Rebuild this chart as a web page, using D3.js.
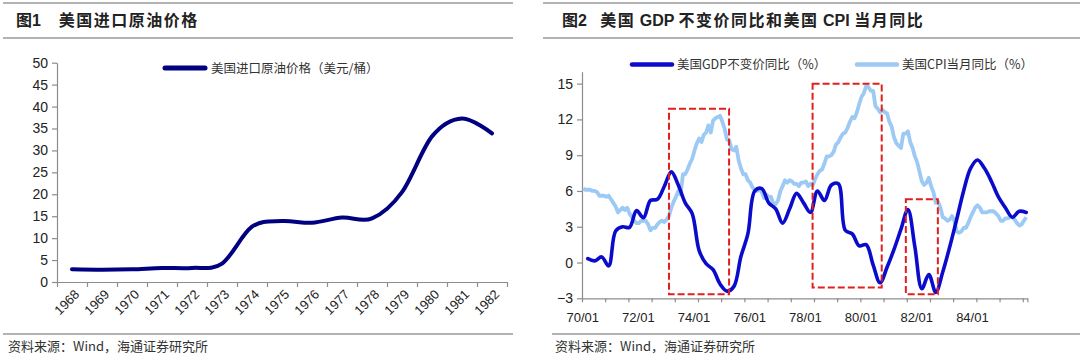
<!DOCTYPE html>
<html><head><meta charset="utf-8">
<script src="https://cdn.jsdelivr.net/npm/d3@7"></script>
<style>body{margin:0;background:#fff}svg{display:block}</style>
</head><body>
<svg id="c" width="1080" height="356"></svg>
<script>
// ---------- data ----------
const oilYears = ["1968","1969","1970","1971","1972","1973","1974","1975","1976","1977","1978","1979","1980","1981","1982"];
const oilPrice = [2.9, 2.8, 2.9, 3.2, 3.2, 4.2, 12.6, 13.9, 13.5, 14.7, 14.5, 20.5, 33.2, 37.3, 33.9];
const oilTicks = [0,5,10,15,20,25,30,35,40,45,50];

// US real GDP YoY, quarterly 1970Q1..1985Q4
const gdpYoY = [0.33, 0.14, 0.47, -0.28,
  2.65, 3.0, 2.95, 4.35,
  3.75, 5.2, 5.3, 6.4,
  7.6, 6.5, 5.0, 4.1,
  1.0, -0.1, -0.6, -1.8,
  -2.4, -2.0, 0.5, 2.4,
  6.0, 6.2, 5.0, 4.5,
  3.3, 4.5, 5.8, 5.0,
  4.2, 6.0, 5.2, 6.5,
  6.6, 2.7, 2.4, 1.4,
  1.5, -0.2, -1.7, -0.4,
  1.1, 2.8, 4.45, 1.3,
  -2.2, -1.0, -2.5, -0.8,
  1.3, 3.6, 6.0, 7.9,
  8.6, 7.9, 6.8, 5.5,
  4.6, 3.8, 4.3, 4.2];
// US CPI YoY, monthly 1970/01..1985/12
const cpiYoY = [
 6.2,6.1,6.1,6.1,6.0,6.0,5.9,5.6,5.6,5.6,5.5,5.6,
 5.3,5.0,4.7,4.2,4.4,4.6,4.4,4.6,4.1,3.8,3.5,3.3,
 3.3,3.5,3.5,3.5,3.2,2.7,2.9,2.9,3.2,3.4,3.5,3.4,
 3.6,3.9,4.6,5.1,5.5,6.0,5.7,7.4,7.4,7.8,8.3,8.7,
 9.4,10.0,10.4,10.1,10.7,10.9,11.5,10.9,11.9,12.1,12.2,12.3,
 11.8,11.2,10.3,10.2,9.5,9.4,9.7,8.6,7.9,7.4,7.4,6.9,
 6.7,6.3,6.1,6.0,6.2,5.9,5.4,5.7,5.5,5.5,4.9,4.9,
 5.2,6.0,6.4,6.9,6.7,6.9,6.8,6.6,6.6,6.4,6.7,6.7,
 6.8,6.4,6.6,6.5,7.0,7.4,7.7,7.8,8.3,8.9,8.9,9.0,
 9.3,9.9,10.1,10.5,10.8,10.9,11.3,11.8,12.2,12.1,12.6,13.3,
 13.9,14.2,14.8,14.7,14.4,14.4,13.1,12.9,12.6,12.8,12.6,12.5,
 11.8,11.4,10.5,10.0,9.8,9.6,10.8,10.8,11.0,10.1,9.6,8.9,
 8.4,7.6,6.8,6.5,6.7,7.1,6.4,5.9,5.0,5.1,4.6,3.8,
 3.7,3.5,3.6,3.9,3.5,2.6,2.5,2.6,2.9,2.9,3.3,3.8,
 4.2,4.6,4.8,4.6,4.2,4.2,4.2,4.3,4.3,4.3,4.1,3.9,
 3.5,3.5,3.7,3.7,3.8,3.8,3.6,3.3,3.1,3.2,3.5,3.8];
const rightTicks = [-3,0,3,6,9,12,15];
const monthLabels = ["70/01","72/01","74/01","76/01","78/01","80/01","82/01","84/01"];
// highlighted periods: [start month index, end month index, low value, high value]
const boxes = [[37.5, 63.4, -2.65, 12.9], [99.4, 129.2, -2.1, 15.0], [139.6, 153.4, -2.65, 5.3]];

// ---------- drawing ----------
const svg = d3.select("#c");
svg.append("rect").attr("width",1080).attr("height",356).attr("fill","#fff");
const CJK = "'Noto Sans CJK SC', sans-serif";
const LAT = "'Liberation Sans', Arial, sans-serif";

function rule(x1,x2,y){svg.append("line").attr("x1",x1).attr("x2",x2).attr("y1",y).attr("y2",y).attr("stroke","#9a9a9a").attr("stroke-width",1.6);}
rule(3,513,3); rule(3,513,38); rule(543,1080,3); rule(543,1080,38);
rule(3,513,334); rule(552,1080,334);

function title(x, parts){
  const t = svg.append("text").attr("x",x).attr("y",26).attr("font-size",16).attr("fill","#222");
  parts.forEach(p=>t.append("tspan").attr("font-family",p[1]?LAT:CJK).attr("font-weight",700)
     .attr("letter-spacing",p[2]||0).text(p[0]));
}
title(16, [["图",0],["1",1],["\u00a0\u00a0\u00a0\u00a0",1],["美国进口原油价格",0,1.5]]);
title(562,[["图",0],["2",1],["\u00a0\u00a0\u00a0",1],["美国",0,1.5],[" GDP ",1],["不变价同比和美国",0,1.5],[" CPI ",1],["当月同比",0,1.5]]);

function source(x){svg.append("text").attr("x",x).attr("y",351).attr("font-family",CJK).attr("font-size",13).attr("fill","#333").text("资料来源：Wind，海通证券研究所");}
source(8); source(555);

function styleAxis(g){
  g.select(".domain").attr("stroke","#8c8c8c").attr("stroke-width",1.2);
  g.selectAll(".tick line").attr("stroke","#8c8c8c").attr("stroke-width",1.2);
  g.selectAll("text").attr("fill","#222").attr("font-family",LAT);
}

// ---------- left chart ----------
const xL = d3.scaleBand().domain(oilYears).range([57,507]).padding(0);
const xLi = d3.scaleLinear().domain([0,oilYears.length]).range([57,507]);
const yL = d3.scaleLinear().domain([0,50]).range([282,62.7]);

const gyL = svg.append("g").attr("transform","translate(57,0)")
  .call(d3.axisLeft(yL).tickValues(oilTicks).tickSize(5).tickSizeOuter(0).tickPadding(4));
styleAxis(gyL); gyL.selectAll("text").attr("font-size",14);

const gxL = svg.append("g").attr("transform","translate(0,282)")
  .call(d3.axisBottom(xLi).tickValues(d3.range(oilYears.length+1)).tickSize(5).tickSizeOuter(0).tickFormat(""));
styleAxis(gxL);
svg.append("g").selectAll("text").data(oilYears).join("text")
  .attr("transform",d=>`translate(${xL(d)+xL.bandwidth()/2+5},${292}) rotate(-45)`)
  .attr("text-anchor","end").attr("dy","0.35em").attr("font-family",LAT).attr("font-size",13).attr("fill","#222").text(d=>d);

svg.append("path").datum(oilPrice)
  .attr("d", d3.line().x((d,i)=>xL(oilYears[i])+xL.bandwidth()/2).y(d=>yL(d)).curve(d3.curveCardinal.tension(0)))
  .attr("fill","none").attr("stroke","#000080").attr("stroke-width",4).attr("stroke-linecap","round");

svg.append("line").attr("x1",165).attr("x2",205).attr("y1",68).attr("y2",68).attr("stroke","#000080").attr("stroke-width",5).attr("stroke-linecap","round");
svg.append("text").attr("x",211).attr("y",72.5).attr("font-family",CJK).attr("font-size",12.5).attr("fill","#333").text("美国进口原油价格（美元/桶）");

// ---------- right chart ----------
const nM = cpiYoY.length;
const xR = d3.scaleLinear().domain([0,nM]).range([582,1027.4]);
const yR = d3.scaleLinear().domain([-3,16]).range([298.3,71.7]);

const gyR = svg.append("g").attr("transform","translate(582,0)")
  .call(d3.axisLeft(yR).tickValues(rightTicks).tickSize(5).tickSizeOuter(0).tickPadding(4));
styleAxis(gyR); gyR.selectAll("text").attr("font-size",14);

const gxR = svg.append("g").attr("transform","translate(0,298.3)")
  .call(d3.axisBottom(xR).tickValues(d3.range(0,nM+1,10).concat([nM])).tickSize(4).tickSizeOuter(0).tickFormat(""));
styleAxis(gxR);
svg.append("g").selectAll("text").data(monthLabels).join("text")
  .attr("x",(d,i)=>xR(i*24+0.3)).attr("y",322).attr("text-anchor","middle")
  .attr("font-family",LAT).attr("font-size",13).attr("fill","#222").text(d=>d);

svg.append("path").datum(cpiYoY)
  .attr("d", d3.line().x((d,i)=>xR(i+0.5)).y(d=>yR(d)))
  .attr("fill","none").attr("stroke","#9ccaf4").attr("stroke-width",3.8).attr("stroke-linejoin","round");
svg.append("path").datum(gdpYoY)
  .attr("d", d3.line().x((d,i)=>xR(i*3+2.5)).y(d=>yR(d)).curve(d3.curveCatmullRom.alpha(0.5)))
  .attr("fill","none").attr("stroke","#0b0bcc").attr("stroke-width",3.6).attr("stroke-linecap","round");

svg.append("g").selectAll("rect").data(boxes).join("rect")
  .attr("x",d=>xR(d[0])).attr("width",d=>xR(d[1])-xR(d[0]))
  .attr("y",d=>yR(d[3])).attr("height",d=>yR(d[2])-yR(d[3]))
  .attr("fill","none").attr("stroke","#e0201f").attr("stroke-width",2).attr("stroke-dasharray","7,3");

svg.append("line").attr("x1",632).attr("x2",672).attr("y1",64.5).attr("y2",64.5).attr("stroke","#0b0bcc").attr("stroke-width",4.5).attr("stroke-linecap","round");
svg.append("text").attr("x",677).attr("y",69).attr("font-family",CJK).attr("font-size",12.5).attr("fill","#333").text("美国GDP不变价同比（%）");
svg.append("line").attr("x1",857).attr("x2",897).attr("y1",64.5).attr("y2",64.5).attr("stroke","#9ccaf4").attr("stroke-width",4.5).attr("stroke-linecap","round");
svg.append("text").attr("x",902).attr("y",69).attr("font-family",CJK).attr("font-size",12.5).attr("fill","#333").text("美国CPI当月同比（%）");
</script>
</body></html>
